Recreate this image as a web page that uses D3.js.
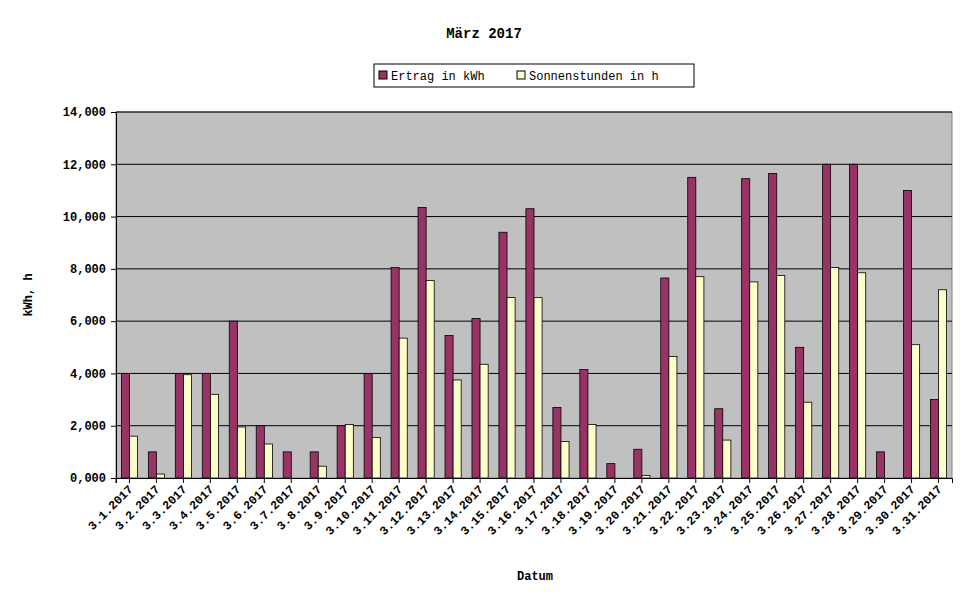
<!DOCTYPE html><html><head><script src="https://d3js.org/d3.v7.min.js"></script>
<style>body{margin:0;background:#fff}text{font-family:"Liberation Mono","DejaVu Sans Mono",monospace}</style></head><body>
<svg id="c" width="971" height="605"></svg>
<script>
const categories=d3.range(1,32).map(d=>"3."+d+".2017");
const ertrag=[4.0,1.0,4.0,4.0,6.0,2.0,1.0,1.0,2.0,4.0,8.05,10.35,5.45,6.1,9.4,10.3,2.7,4.15,0.55,1.1,7.65,11.5,2.65,11.45,11.65,5.0,12.0,12.0,1.0,11.0,3.0];
const sonne=[1.6,0.15,3.95,3.2,1.95,1.3,0,0.45,2.05,1.55,5.35,7.55,3.75,4.35,6.9,6.9,1.4,2.05,0,0.1,4.65,7.7,1.45,7.5,7.75,2.9,8.05,7.85,0,5.1,7.2];
const yTicks=[0,2,4,6,8,10,12,14];
const fmt=v=>d3.format(",")(v)+",000".slice(0,0)+"";
const svg=d3.select("#c");
const L=116,R=952,T=112,B=478;
const x=d3.scaleBand().domain(categories).range([L,R]);
const y=d3.scaleLinear().domain([0,14]).range([B,T]);
svg.append("rect").attr("x",L).attr("y",T).attr("width",R-L).attr("height",B-T).attr("fill","#c0c0c0").attr("stroke","#808080");
svg.selectAll(".g").data(yTicks.slice(1)).join("line").attr("x1",L).attr("x2",R).attr("y1",d=>y(d)).attr("y2",d=>y(d)).attr("stroke","#000");
const bw=x.bandwidth();
const g=svg.append("g");
categories.forEach((c,i)=>{
 const x0=x(c)+bw*0.2,w=bw*0.3;
 g.append("rect").attr("x",x0).attr("y",y(ertrag[i])).attr("width",w).attr("height",B-y(ertrag[i])).attr("fill","#993366").attr("stroke","#000").attr("stroke-width",0.8);
 if(sonne[i]>0)g.append("rect").attr("x",x0+w).attr("y",y(sonne[i])).attr("width",w).attr("height",B-y(sonne[i])).attr("fill","#ffffcc").attr("stroke","#000").attr("stroke-width",0.8);
});
const ya=svg.append("g").attr("transform",`translate(${L},0)`).call(d3.axisLeft(y).tickValues(yTicks).tickSize(5).tickFormat(d=>d3.format(",.3f")(d).replace(".",",")));
ya.selectAll("text").attr("font-size",12).attr("font-weight","bold").attr("x",-10);
ya.select(".domain").attr("stroke","#000");
const xa=svg.append("g").attr("transform",`translate(0,${B})`).call(d3.axisBottom(x).tickSize(5).tickFormat(""));
svg.append("line").attr("x1",L).attr("x2",L).attr("y1",B).attr("y2",B+5).attr("stroke","#000");
svg.selectAll(".xl").data(categories).join("text").attr("font-size",12).attr("font-weight","bold").attr("text-anchor","end")
 .attr("transform",d=>`translate(${x(d)+bw/2+4},${B+12}) rotate(-45)`).text(d=>d);
svg.append("text").attr("x",484).attr("y",38).attr("text-anchor","middle").attr("font-size",14).attr("font-weight","bold").text("März 2017");
svg.append("text").attr("x",535).attr("y",580).attr("text-anchor","middle").attr("font-size",12).attr("font-weight","bold").text("Datum");
svg.append("text").attr("transform","translate(32,295) rotate(-90)").attr("text-anchor","middle").attr("font-size",12).attr("font-weight","bold").text("kWh, h");
const lg=svg.append("g");
lg.append("rect").attr("x",374).attr("y",64).attr("width",320).attr("height",23).attr("fill","#fff").attr("stroke","#000");
[["Ertrag in kWh","#993366",379],["Sonnenstunden in h","#ffffcc",517]].forEach(([t,c,lx])=>{
 lg.append("rect").attr("x",lx).attr("y",71).attr("width",8).attr("height",8).attr("fill",c).attr("stroke","#000");
 lg.append("text").attr("x",lx+12).attr("y",80).attr("font-size",12).text(t);
});
</script></body></html>
